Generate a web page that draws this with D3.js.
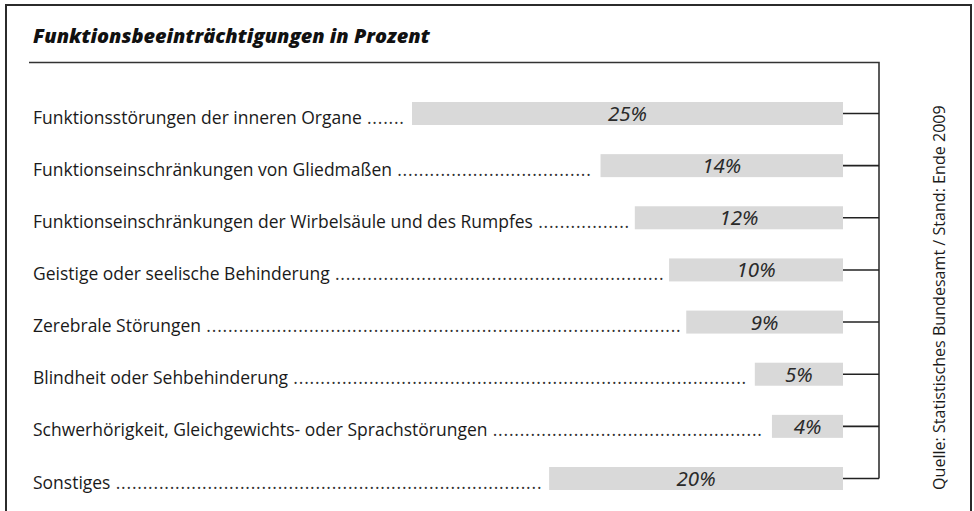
<!DOCTYPE html>
<html>
<head>
<meta charset="utf-8">
<script src="https://cdn.jsdelivr.net/npm/d3@7"></script>
<style>
  html, body { margin: 0; padding: 0; background: #fff; }
  svg { display: block; }
  text { font-family: "Open Sans", "Lato", sans-serif; }
  .pct { font-family: "Noto Sans", "Open Sans", sans-serif; }
</style>
</head>
<body>
<svg id="chart" width="974" height="511"></svg>
<script>
// ---- data ----
const title = "Funktionsbeeinträchtigungen in Prozent";
const source = "Quelle: Statistisches Bundesamt / Stand: Ende 2009";
const categories = [
  "Funktionsstörungen der inneren Organe",
  "Funktionseinschränkungen von Gliedmaßen",
  "Funktionseinschränkungen der Wirbelsäule und des Rumpfes",
  "Geistige oder seelische Behinderung",
  "Zerebrale Störungen",
  "Blindheit oder Sehbehinderung",
  "Schwerhörigkeit, Gleichgewichts- oder Sprachstörungen",
  "Sonstiges"
];
// printed shares (percent)
const shares = [25, 14, 12, 10, 9, 5, 4, 20];
// bar lengths as drawn in the source graphic (percent units; the "Sonstiges" bar is drawn shortened)
const barLengths = [25, 14, 12, 10, 9, 5, 4, 17];

// ---- layout ----
const svg = d3.select("#chart");
const barRight = 843, bracketX = 879, barH = 23;
const labelX = 33;

const w = d3.scaleLinear().domain([0, 25]).range([2.5, 431]);
const y = d3.scalePoint().domain(categories).range([113.5, 478.5]);

// frame
svg.append("rect")
  .attr("x", 6).attr("y", 5).attr("width", 965).attr("height", 520)
  .attr("fill", "none").attr("stroke", "#2b2b2b").attr("stroke-width", 2);

// title
const t = svg.append("text")
  .attr("x", labelX).attr("y", 43)
  .attr("font-size", 18).attr("font-weight", 800).attr("font-style", "italic")
  .attr("fill", "#111").text(title);
const tw = t.node().getComputedTextLength();
t.attr("font-size", 18 * 397 / tw);

// title rule + bracket
svg.append("path")
  .attr("d", `M29,62.5H${bracketX}V${y(categories[categories.length-1])}`)
  .attr("fill", "none").attr("stroke", "#333").attr("stroke-width", 1.6);

// connectors
svg.append("g").selectAll("line").data(categories).join("line")
  .attr("x1", barRight).attr("x2", bracketX)
  .attr("y1", d => y(d)).attr("y2", d => y(d))
  .attr("stroke", "#222").attr("stroke-width", 1.6);

// bars
svg.append("g").selectAll("rect").data(categories).join("rect")
  .attr("x", (d, i) => barRight - w(barLengths[i]))
  .attr("y", d => y(d) - barH / 2)
  .attr("width", (d, i) => w(barLengths[i]))
  .attr("height", barH)
  .attr("fill", "#d9d9d9");

// percent labels
const pct = svg.append("g").selectAll("text").data(categories).join("text")
  .attr("class", "pct")
  .attr("x", (d, i) => barRight - w(barLengths[i]) / 2)
  .attr("y", d => y(d) + 7.5)
  .attr("text-anchor", "middle")
  .attr("font-size", 18).attr("font-style", "italic")
  .attr("fill", "#2a2a2a")
  .text((d, i) => shares[i] + "%");
const p0 = pct.node().getComputedTextLength();
pct.attr("font-size", 18 * 39 / p0);

// category labels with dot leaders
const labelSize0 = 15;
const labels = svg.append("g").selectAll("text").data(categories).join("text")
  .attr("x", labelX)
  .attr("y", d => y(d) + 10)
  .attr("font-size", labelSize0)
  .attr("fill", "#1a1a1a")
  .text(d => d);
const l0 = labels.node().getComputedTextLength();
const labelSize = labelSize0 * 329 / l0;
labels.attr("font-size", labelSize);

const dotStep = 5.4;
labels.each(function(d, i) {
  const txtW = this.getComputedTextLength();
  const start = labelX + txtW + labelSize * 0.3;
  const end = barRight - w(barLengths[i]) - 4;
  const n = Math.max(0, Math.floor((end - start) / dotStep));
  const g = d3.select(this.parentNode);
  const dots = g.append("text")
    .attr("x", start).attr("y", y(d) + 10)
    .attr("font-size", labelSize).attr("fill", "#333")
    .text(".".repeat(n));
  const oneDot = dots.node().getComputedTextLength() / Math.max(1, n);
  dots.attr("letter-spacing", dotStep - oneDot);
});

// source (rotated)
const s = svg.append("text")
  .attr("transform", "translate(945,490) rotate(-90)")
  .attr("font-size", 15).attr("fill", "#1a1a1a")
  .text(source);
const sw = s.node().getComputedTextLength();
s.attr("font-size", 15 * 385 / sw);
</script>
</body>
</html>
